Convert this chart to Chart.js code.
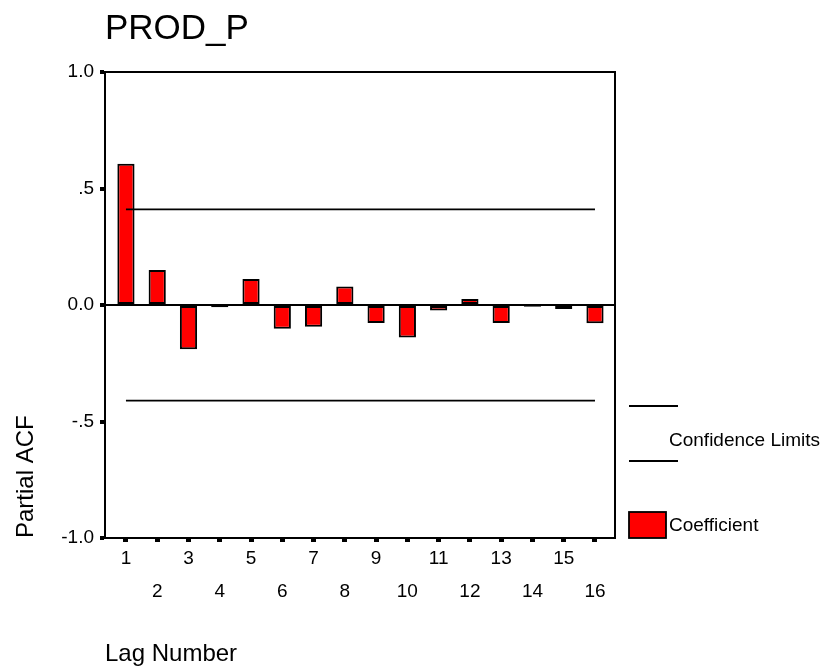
<!DOCTYPE html>
<html>
<head>
<meta charset="utf-8">
<title>PROD_P</title>
<script src="https://cdn.jsdelivr.net/npm/chart.js@4/dist/chart.umd.min.js"></script>
<style>
  html, body { margin: 0; padding: 0; background: #fff; }
  #wrap { width: 827px; height: 671px; position: relative; }
</style>
</head>
<body>
<div id="wrap"><canvas id="pacfChart"></canvas></div>
<script>
'use strict';

// data
var lags = [1, 2, 3, 4, 5, 6, 7, 8, 9, 10, 11, 12, 13, 14, 15, 16];
var coefficients = [0.606, 0.150, -0.190, -0.010, 0.112, -0.102, -0.093, 0.079,
                    -0.077, -0.140, -0.024, 0.026, -0.077, -0.008, -0.017, -0.078];
var upperLimit = [0.41, 0.41, 0.41, 0.41, 0.41, 0.41, 0.41, 0.41,
                  0.41, 0.41, 0.41, 0.41, 0.41, 0.41, 0.41, 0.41];
var lowerLimit = [-0.41, -0.41, -0.41, -0.41, -0.41, -0.41, -0.41, -0.41,
                  -0.41, -0.41, -0.41, -0.41, -0.41, -0.41, -0.41, -0.41];
var yTickLabels = { '1': '1.0', '0.5': '.5', '0': '0.0', '-0.5': '-.5', '-1': '-1.0' };

var chartTitle = 'PROD_P';
var fontFamily = "'Liberation Sans', Arial, Helvetica, sans-serif";
var barRed = '#ff0000';

function points(values) {
    return lags.map(function (lag, i) { return { x: lag, y: values[i] }; });
}

// ------------------------------------------------------- //
// frame round the plot + title + right hand legend
// ------------------------------------------------------ //
var spssExtras = {
    id: 'spssExtras',
    afterDatasetsDraw: function (chart) {
        var ctx = chart.ctx, a = chart.chartArea;
        ctx.save();
        ctx.strokeStyle = '#000';
        ctx.lineWidth = 2;
        ctx.strokeRect(a.left, a.top, a.right - a.left, a.bottom - a.top);
        ctx.restore();
    },
    afterDraw: function (chart) {
        var ctx = chart.ctx, a = chart.chartArea;
        ctx.save();
        // title
        ctx.fillStyle = '#000';
        ctx.font = '35px ' + fontFamily;
        ctx.textBaseline = 'middle';
        ctx.textAlign = 'left';
        ctx.fillText(chartTitle, a.left, 29);

        // legend
        var lx = a.right + 14;
        ctx.strokeStyle = '#000';
        ctx.lineWidth = 1.8;
        ctx.beginPath();
        ctx.moveTo(lx, 406); ctx.lineTo(lx + 49, 406);
        ctx.moveTo(lx, 461); ctx.lineTo(lx + 49, 461);
        ctx.stroke();

        ctx.font = '19px ' + fontFamily;
        ctx.fillText('Confidence Limits', lx + 40, 441);

        ctx.fillStyle = barRed;
        ctx.fillRect(lx, 512, 37, 26);
        ctx.strokeRect(lx, 512, 37, 26);
        ctx.fillStyle = '#000';
        ctx.fillText('Coefficient', lx + 40, 526);
        ctx.restore();
    }
};

var PACF = document.getElementById('pacfChart');
var pacfChart = new Chart(PACF, {
    type: 'bar',
    data: {
        datasets: [
            {
                type: 'line',
                label: 'Confidence Limits',
                data: points(upperLimit),
                borderColor: '#000',
                borderWidth: 1.8,
                pointRadius: 0,
                fill: false
            },
            {
                type: 'line',
                label: 'Confidence Limits (lower)',
                data: points(lowerLimit),
                borderColor: '#000',
                borderWidth: 1.8,
                pointRadius: 0,
                fill: false
            },
            {
                label: 'Coefficient',
                data: points(coefficients),
                backgroundColor: barRed,
                borderColor: '#000',
                borderWidth: 2,
                borderSkipped: false,
                categoryPercentage: 1,
                barPercentage: 0.55
            }
        ]
    },
    plugins: [spssExtras],
    options: {
        responsive: true,
        maintainAspectRatio: false,
        animation: false,
        layout: {
            padding: { top: 72, right: 212, left: 0, bottom: 0 }
        },
        plugins: {
            legend: { display: false },
            tooltip: { enabled: false },
            title: { display: false }
        },
        scales: {
            x: {
                type: 'linear',
                offset: false,
                min: 0.33,
                max: 16.64,
                afterFit: function (scale) { scale.height = 133; },
                afterBuildTicks: function (scale) {
                    scale.ticks = lags.map(function (v) { return { value: v }; });
                },
                border: { display: true, color: '#000', width: 2 },
                grid: {
                    offset: false,
                    drawOnChartArea: false,
                    tickLength: 4,
                    tickWidth: 5,
                    tickColor: '#000'
                },
                ticks: {
                    autoSkip: false,
                    maxRotation: 0,
                    padding: 0,
                    color: '#000',
                    font: { family: fontFamily, size: 19, lineHeight: 1.75 },
                    callback: function (value) {
                        return value % 2 === 1 ? [String(value), ''] : ['', String(value)];
                    }
                },
                title: {
                    display: true,
                    text: 'Lag Number',
                    align: 'start',
                    color: '#000',
                    font: { family: fontFamily, size: 24 },
                    padding: { top: 0, bottom: 2 }
                }
            },
            y: {
                min: -1,
                max: 1,
                afterFit: function (scale) { scale.width = 105; },
                border: { display: true, color: '#000', width: 2 },
                grid: {
                    color: function (ctx) {
                        return ctx.tick && ctx.tick.value === 0 ? '#000' : 'rgba(0,0,0,0)';
                    },
                    lineWidth: 2,
                    tickLength: 5,
                    tickWidth: 4,
                    tickColor: '#000'
                },
                ticks: {
                    stepSize: 0.5,
                    padding: 6,
                    color: '#000',
                    font: { family: fontFamily, size: 19 },
                    callback: function (value) {
                        return yTickLabels[String(value)];
                    }
                },
                title: {
                    display: true,
                    text: 'Partial ACF',
                    align: 'start',
                    color: '#000',
                    font: { family: fontFamily, size: 24 },
                    padding: { top: 12, bottom: 0 }
                }
            }
        }
    }
});
</script>
</body>
</html>
